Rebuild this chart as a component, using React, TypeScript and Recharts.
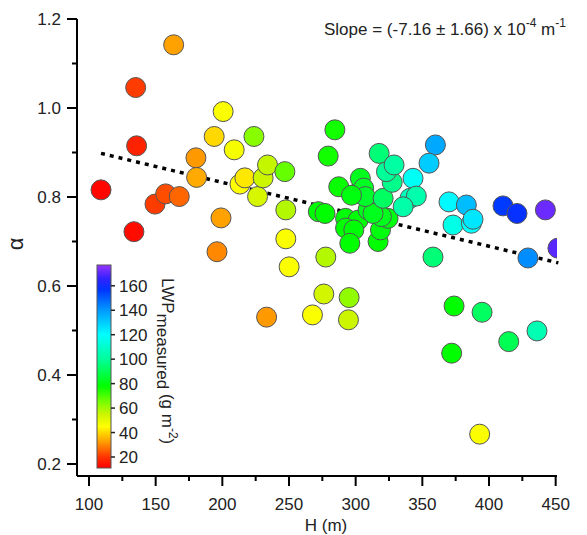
import { ScatterChart, Scatter, XAxis, YAxis, ReferenceLine } from "recharts";

const FONT = '"Liberation Sans", Arial, sans-serif';

// boundary-layer depth H (m)
const hValues = [
  109, 133.7, 135.7, 135, 163.5, 149.5, 157.5, 167.7, 180.2, 180.7,
  199, 196, 233.2, 200.6, 193.9, 208.9, 213.2, 216.9, 226.4, 230.6,
  233.9, 223.7, 246.9, 247.6, 247.6, 250.1, 267.6, 276.1, 295.1, 294.6,
  277.6, 284.4, 279.4, 287.3, 272, 277, 292.4, 301.8, 292.4, 298.6,
  295.6, 316.8, 318.6, 324.3, 319.3, 309.3, 313, 301, 303.5, 306,
  307.2, 296.9, 320.6, 327.4, 323.1, 317.6, 328.8, 343, 340.7, 345.5,
  335.6, 359.8, 355, 358, 370, 383, 373, 386.8, 388, 410.5,
  421, 442.3, 451.7, 429.2, 373.8, 394.8, 372, 414.8, 436, 393,
];

// alpha
const alphaValues = [
  0.816, 0.722, 0.915, 1.046, 1.142, 0.784, 0.807, 0.801, 0.888, 0.844,
  0.753, 0.677, 0.53, 0.992, 0.936, 0.906, 0.829, 0.843, 0.801, 0.843,
  0.872, 0.936, 0.857, 0.771, 0.706, 0.643, 0.535, 0.582, 0.574, 0.524,
  0.665, 0.951, 0.892, 0.823, 0.767, 0.763, 0.752, 0.748, 0.73, 0.726,
  0.696, 0.7, 0.726, 0.752, 0.756, 0.771, 0.763, 0.808, 0.842, 0.82,
  0.801, 0.804, 0.797, 0.833, 0.857, 0.898, 0.872, 0.842, 0.797, 0.802,
  0.778, 0.917, 0.876, 0.665, 0.789, 0.782, 0.737, 0.741, 0.75, 0.78,
  0.763, 0.771, 0.685, 0.663, 0.555, 0.541, 0.449, 0.475, 0.499, 0.267,
];

// LWP measured (g m-2)
const lwpValues = [
  12, 13, 17, 21, 33, 21, 23, 26, 32, 34,
  33, 30, 32, 46, 40, 47, 45, 42, 53, 55,
  56, 63, 67, 58, 46, 46, 46, 54, 62, 55,
  58, 76, 76, 77, 78, 78, 79, 79, 78, 79,
  78, 78, 80, 80, 82, 82, 82, 81, 82, 83,
  84, 80, 92, 98, 100, 95, 102, 118, 107, 104,
  103, 137, 130, 95, 121, 133, 115, 120, 125, 156,
  158, 172, 170, 142, 78, 92, 78, 90, 105, 46,
];

const xTicks = [100, 125, 150, 175, 200, 225, 250, 275, 300, 325, 350, 375, 400, 425, 450];
const yTicks = [0.2, 0.3, 0.4, 0.5, 0.6, 0.7, 0.8, 0.9, 1.0, 1.1, 1.2];
const cbTicks = [20, 40, 60, 80, 100, 120, 140, 160];

// linear fit end points
const fitStart = { x: 109, y: 0.898 };
const fitEnd = { x: 452, y: 0.652 };

const CB_MIN = 11;
const CB_MAX = 177;
const CB_STOPS: [number, string][] = [
  [11, "#ff0000"],
  [20, "#ff3300"],
  [33, "#ffa200"],
  [45, "#ffff00"],
  [55, "#ccf500"],
  [65, "#77ff00"],
  [78, "#00ff00"],
  [100, "#00ff99"],
  [120, "#00ffff"],
  [140, "#0099ff"],
  [157, "#0033ff"],
  [166, "#3322ff"],
  [177, "#9933ff"],
];

const data = hValues.map((h, i) => ({ h, alpha: alphaValues[i], lwp: lwpValues[i] }));

function hex(c: string) {
  return [1, 3, 5].map((k) => parseInt(c.slice(k, k + 2), 16));
}

function colorFor(v: number) {
  if (v <= CB_STOPS[0][0]) return CB_STOPS[0][1];
  for (let i = 1; i < CB_STOPS.length; i++) {
    const [v1, c1] = CB_STOPS[i];
    const [v0, c0] = CB_STOPS[i - 1];
    if (v <= v1) {
      const t = (v - v0) / (v1 - v0);
      const a = hex(c0);
      const b = hex(c1);
      const m = a.map((q, k) => Math.round(q + (b[k] - q) * t));
      return `rgb(${m[0]},${m[1]},${m[2]})`;
    }
  }
  return CB_STOPS[CB_STOPS.length - 1][1];
}

const Dot = (props: any) => {
  const { cx, cy, payload } = props;
  return <circle cx={cx} cy={cy} r={10} fill={colorFor(payload.lwp)} stroke="#555" strokeWidth={1} />;
};

const YTick = ({ x, y, payload }: any) => {
  const major = Math.round(payload.value * 10) % 2 === 0;
  return (
    <g>
      <line x1={x - (major ? 10 : 5)} x2={x} y1={y} y2={y} stroke="#000" strokeWidth={2} />
      {major && (
        <text x={x - 16} y={y + 6} textAnchor="end" fontSize={17} fontFamily={FONT} fill="#222">
          {payload.value.toFixed(1)}
        </text>
      )}
    </g>
  );
};

const XTick = ({ x, y, payload }: any) => {
  const major = payload.value % 50 === 0;
  return (
    <g>
      <line x1={x} x2={x} y1={y} y2={y + (major ? 10 : 5)} stroke="#000" strokeWidth={2} />
      {major && (
        <text x={x} y={y + 34} textAnchor="middle" fontSize={17} fontFamily={FONT} fill="#222">
          {payload.value}
        </text>
      )}
    </g>
  );
};

function Overlay() {
  const top = 265;
  const bottom = 468;
  const cbY = (v: number) => bottom - ((v - CB_MIN) / (CB_MAX - CB_MIN)) * (bottom - top);
  return (
    <svg
      width={587}
      height={535}
      style={{ position: "absolute", left: 0, top: 0, pointerEvents: "none" }}
      fontFamily={FONT}
    >
      <defs>
        <linearGradient id="cb" x1="0" y1="1" x2="0" y2="0">
          {CB_STOPS.map(([v, c]) => (
            <stop key={v} offset={(v - CB_MIN) / (CB_MAX - CB_MIN)} stopColor={c} />
          ))}
        </linearGradient>
      </defs>
      <text x={324} y={35} fontSize={17} fill="#222">
        Slope = (-7.16 ± 1.66) x 10
        <tspan fontSize={12} dy={-8}>-4</tspan>
        <tspan dy={8}> m</tspan>
        <tspan fontSize={12} dy={-8}>-1</tspan>
      </text>
      <text transform="translate(23,244) rotate(-90)" textAnchor="middle" fontSize={22} fill="#222">
        α
      </text>
      <text x={326} y={531} textAnchor="middle" fontSize={17} fill="#222">
        H (m)
      </text>
      <rect x={97} y={top} width={14} height={bottom - top} fill="url(#cb)" stroke="#555" strokeWidth={1} />
      {cbTicks.map((v) => (
        <g key={v}>
          <line x1={111} x2={115} y1={cbY(v)} y2={cbY(v)} stroke="#222" strokeWidth={1.5} />
          <text x={119} y={cbY(v) + 6} fontSize={17} fill="#222">
            {v}
          </text>
        </g>
      ))}
      <text transform="translate(162,278) rotate(90)" fontSize={17} fill="#222">
        LWP
        <tspan dy={5}>measured</tspan>
        <tspan dy={-5}> (g m</tspan>
        <tspan fontSize={12} dy={-7}>-2</tspan>
        <tspan dy={7}>)</tspan>
      </text>
    </svg>
  );
}

export default function App() {
  return (
    <div style={{ position: "absolute", left: 0, top: 0, width: 587, height: 535, background: "#fff" }}>
      <ScatterChart width={587} height={535} margin={{ top: 19, right: 30, bottom: 19, left: 17 }}>
        <XAxis
          type="number"
          dataKey="h"
          domain={[91, 451]}
          ticks={xTicks}
          tick={<XTick />}
          tickLine={false}
          tickSize={0}
          tickMargin={0}
          height={40}
          axisLine={{ stroke: "#000", strokeWidth: 2 }}
          interval={0}
          allowDataOverflow
        />
        <YAxis
          type="number"
          dataKey="alpha"
          domain={[0.173, 1.2]}
          ticks={yTicks}
          tick={<YTick />}
          tickLine={false}
          tickSize={0}
          tickMargin={0}
          width={60}
          axisLine={{ stroke: "#000", strokeWidth: 2 }}
          interval={0}
          allowDataOverflow
        />
        <Scatter data={data} shape={<Dot />} isAnimationActive={false} />
        <ReferenceLine
          segment={[fitStart, fitEnd]}
          stroke="#000"
          strokeWidth={3.5}
          strokeDasharray="4 5"
          ifOverflow="visible"
        />
      </ScatterChart>
      <Overlay />
    </div>
  );
}
